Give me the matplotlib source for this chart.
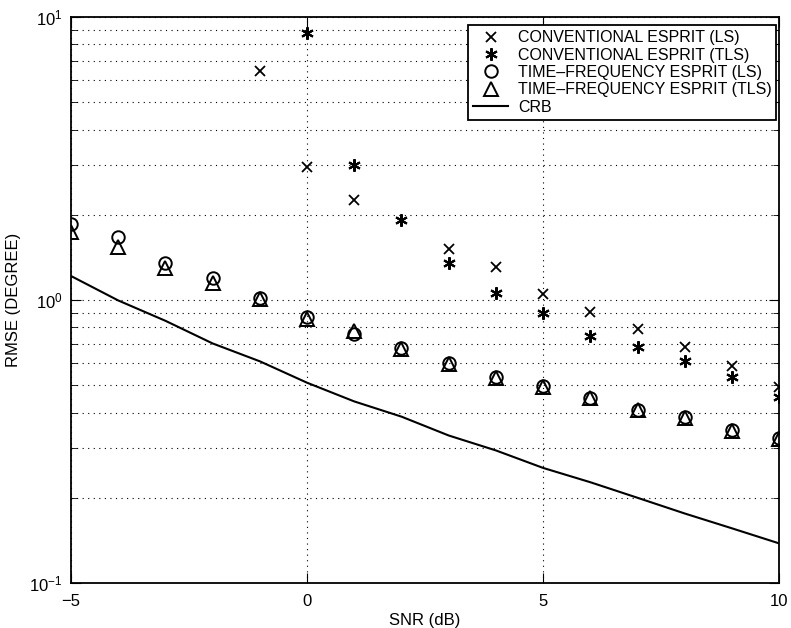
import matplotlib
matplotlib.use('Agg')
import matplotlib.pyplot as plt
import numpy as np
from matplotlib.ticker import LogLocator, NullFormatter

plt.rcParams['font.family'] = ['Liberation Sans', 'DejaVu Sans']
plt.rcParams['mathtext.fontset'] = 'custom'
plt.rcParams['mathtext.rm'] = 'Liberation Sans'

# SNR points (dB)
snr_conv_ls = [-1, 0, 1, 3, 4, 5, 6, 7, 8, 9, 10]
conv_ls = [6.44, 2.96, 2.25, 1.52, 1.31, 1.05, 0.91, 0.79, 0.68, 0.586, 0.494]

snr_conv_tls = [0, 1, 2, 3, 4, 5, 6, 7, 8, 9, 10]
conv_tls = [8.8, 3.0, 1.91, 1.35, 1.06, 0.90, 0.747, 0.683, 0.61, 0.536, 0.455]

snr_tf = [-5, -4, -3, -2, -1, 0, 1, 2, 3, 4, 5, 6, 7, 8, 9, 10]
tf_ls = [1.85, 1.67, 1.35, 1.20, 1.02, 0.874, 0.76, 0.678, 0.601, 0.535, 0.498, 0.452, 0.41, 0.387, 0.348, 0.325]
tf_tls = [1.74, 1.54, 1.30, 1.15, 1.01, 0.86, 0.78, 0.672, 0.596, 0.530, 0.494, 0.449, 0.407, 0.384, 0.345, 0.322]

snr_crb = [-5, -4, -3, -2, -1, 0, 1, 2, 3, 4, 5, 6, 7, 8, 9, 10]
crb = [1.215, 0.996, 0.844, 0.702, 0.607, 0.51, 0.438, 0.387, 0.332, 0.294, 0.255, 0.227, 0.2, 0.176, 0.156, 0.138]

fig = plt.figure(figsize=(7.91, 6.28), dpi=100)
ax = fig.add_axes([0.0898, 0.0717, 0.8952, 0.9013])

asterisk = (6, 2, 0)
ax.semilogy(snr_conv_ls, conv_ls, 'x', color='black', markersize=7, markeredgewidth=1.3,
            linestyle='none', label='CONVENTIONAL ESPRIT (LS)')
ax.semilogy(snr_conv_tls, conv_tls, marker=asterisk, color='black', markersize=9,
            markeredgewidth=1.5, linestyle='none', label='CONVENTIONAL ESPRIT (TLS)')
ax.semilogy(snr_tf, tf_ls, 'o', markerfacecolor='none', markeredgecolor='black', markersize=9,
            markeredgewidth=1.4, linestyle='none', label='TIME\u2013FREQUENCY ESPRIT (LS)')
ax.semilogy(snr_tf, tf_tls, '^', markerfacecolor='none', markeredgecolor='black', markersize=10,
            markeredgewidth=1.4, linestyle='none', label='TIME\u2013FREQUENCY ESPRIT (TLS)')
ax.semilogy(snr_crb, crb, '-', color='black', linewidth=1.5, label='CRB')

ax.set_xlim(-5, 10)
ax.set_ylim(0.1, 10)
ax.set_xticks([-5, 0, 5, 10])
ax.yaxis.set_major_locator(LogLocator(base=10))
ax.yaxis.set_minor_locator(LogLocator(base=10, subs=np.arange(2, 10)))
ax.yaxis.set_minor_formatter(NullFormatter())

ax.grid(True, which='major', linestyle=(0, (1, 4)), color='black', linewidth=0.8)
ax.grid(True, which='minor', axis='y', linestyle=(0, (1, 4)), color='black', linewidth=0.8)

ax.tick_params(which='both', direction='in', top=True, right=True, labelsize=12)
ax.tick_params(which='major', length=7)
ax.tick_params(which='minor', length=4)
ax.tick_params(axis='x', pad=8)
ax.tick_params(axis='y', pad=6)
for s in ax.spines.values():
    s.set_linewidth(1.3)

ax.set_xlabel('SNR (dB)', fontsize=12, labelpad=3)
ax.set_ylabel('RMSE (DEGREE)', fontsize=12, labelpad=6)

leg = ax.legend(loc='upper right', bbox_to_anchor=(0.996, 0.985), fontsize=11.5, frameon=True,
                fancybox=False, framealpha=1, edgecolor='black', handlelength=2.2,
                borderpad=0.3, labelspacing=0.15, handletextpad=0.6, borderaxespad=0)
leg.get_frame().set_linewidth(1.3)

fig.savefig('out.png', dpi=100)
